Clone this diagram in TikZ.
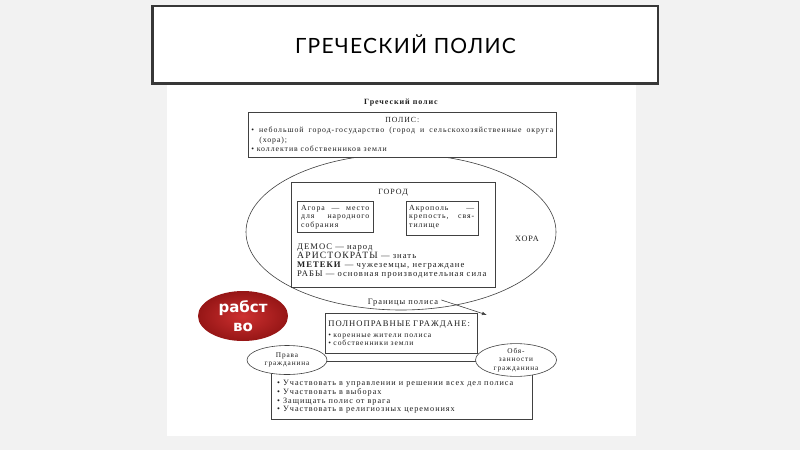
\documentclass[tikz,border=0pt]{standalone}
\usepackage{fontspec}
\setmainfont{Liberation Serif}[LetterSpace=12]
\newfontfamily\slidefont{Lato}[LetterSpace=6]
\newfontfamily\badgefont{DejaVu Sans}
\usepackage{tikz}
\usetikzlibrary{positioning, shapes.geometric, arrows.meta}
\definecolor{slidegray}{RGB}{242, 242, 242}
\definecolor{framegray}{RGB}{55, 55, 55}
\definecolor{inkgray}{RGB}{65, 65, 65}
\definecolor{textgray}{RGB}{30, 30, 30}
\definecolor{badgelight}{RGB}{205, 48, 48}
\definecolor{badgedark}{RGB}{150, 22, 22}

\begin{document}
\begin{tikzpicture}[
    x=1pt, y=-1pt,
    titlebox/.style={rectangle, fill=white, draw=framegray, line width=1.2pt,
                     minimum width=505, minimum height=77, text=black,
                     font=\slidefont\fontsize{21}{24}\selectfont},
    frame/.style={rectangle, draw=inkgray, line width=0.6pt, fill=white,
                  inner sep=3pt, text=textgray},
    oval/.style={ellipse, draw=inkgray, line width=0.6pt, inner sep=0pt,
                 text=textgray, align=center},
    txt/.style={text=textgray, inner sep=0pt},
    small/.style={font=\fontsize{7.8}{8.4}\selectfont},
    badge/.style={ellipse, minimum width=90, minimum height=50, inner sep=0pt,
                  inner color=badgelight, outer color=badgedark, text=white, align=center,
                  font=\badgefont\bfseries\fontsize{15}{19}\selectfont},
    arrowline/.style={-{Latex[length=5pt, width=3.5pt]}, draw=inkgray, line width=0.6pt}
]
    \useasboundingbox (0,0) rectangle (800,450);
    \fill[slidegray] (0,0) rectangle (800,450);
    \fill[white] (167,84) rectangle (636,436);

    % Slide title
    \node[titlebox] (title) at (405.5,44.5) {ГРЕЧЕСКИЙ ПОЛИС};
    \draw[framegray, line width=2pt] (title.north west) |- (title.south east);

    % Heading and polis definition
    \node[txt, font=\fontsize{8}{9}\selectfont\bfseries] (heading) at (401,103) {Греческий полис};

    \node[oval, minimum width=310, minimum height=156] (hora) at (401,232) {};
    \node[txt, font=\fontsize{8.2}{9}\selectfont] (horalbl) at (527,239) {ХОРА};

    \node[frame, anchor=north west, text width=302, minimum height=45, align=justify,
          font=\fontsize{7.8}{9.7}\selectfont] (polis) at (248,112)
        {{\centering ПОЛИС:\par}\hangindent=8pt\hangafter=1
         •~небольшой город-государство (город и сельскохозяйственные округа\linebreak
         (хора);\par
         •~коллектив собственников земли};

    % City
    \node[frame, fill=none, minimum width=204, minimum height=105] (gorod) at (393,234.5) {};
    \node[txt, font=\fontsize{8}{9}\selectfont, below=7pt of gorod.north] (gorodlbl) {ГОРОД};

    \node[frame, minimum width=76, minimum height=31] (agora) at (335,216.5) {};
    \node[txt, anchor=north west, text width=68, align=justify, small] (agoratext)
        at (301,205) {Агора — место\linebreak для народного\linebreak собрания};
    \node[frame, minimum width=72, minimum height=34] (acropolis) at (442,218) {};
    \node[txt, anchor=north west, text width=65, align=justify, small] (acropolistext)
        at (409,205) {Акрополь —\linebreak крепость, свя-\linebreak тилище};

    \node[txt, anchor=north west, align=left, font=\fontsize{8.6}{9}\selectfont] (people) at (297,244)
        {ДЕМОС — народ\\
         {\fontsize{9.6}{9}\selectfont АРИСТОКРАТЫ} — знать\\
         \textbf{МЕТЕКИ} — чужеземцы, неграждане\\
         РАБЫ — основная производительная сила};

    % Border of the polis
    \node[txt, font=\fontsize{8.4}{9}\selectfont] (granlbl) at (403,303) {Границы полиса};
    \coordinate (bordertip) at (487,315);
    \draw[arrowline] ([xshift=3pt, yshift=3pt]granlbl.east) -- (bordertip);

    \node[badge] (rabstvo) at (243,316) {рабст\\во};

    % Citizens
    \node[frame, anchor=north west, text width=146, minimum height=40, align=left,
          font=\fontsize{7.6}{8.8}\selectfont] (citizens) at (325,313)
        {{\fontsize{8.6}{10}\selectfont ПОЛНОПРАВНЫЕ ГРАЖДАНЕ:}\\[2pt]
         •~коренные жители полиса\\
         •~собственники земли};

    \node[frame, minimum width=261, minimum height=58] (duties) at (401.5,390) {};
    \node[txt, anchor=north west, align=left, font=\fontsize{8.2}{8.8}\selectfont]
        (dutylist) at (277,380)
        {•~Участвовать в управлении и решении всех дел полиса\\
         •~Участвовать в выборах\\
         •~Защищать полис от врага\\
         •~Участвовать в религиозных церемониях};

    \node[oval, fill=white, minimum width=80, minimum height=29,
          font=\fontsize{7.3}{8.2}\selectfont] (rights) at (287,360) {Права\\гражданина};
    \node[oval, fill=white, minimum width=81, minimum height=29,
          font=\fontsize{7.3}{8.2}\selectfont] (obligations) at (516,360) {Обя-\\занности\\гражданина};
\end{tikzpicture}
\end{document}
